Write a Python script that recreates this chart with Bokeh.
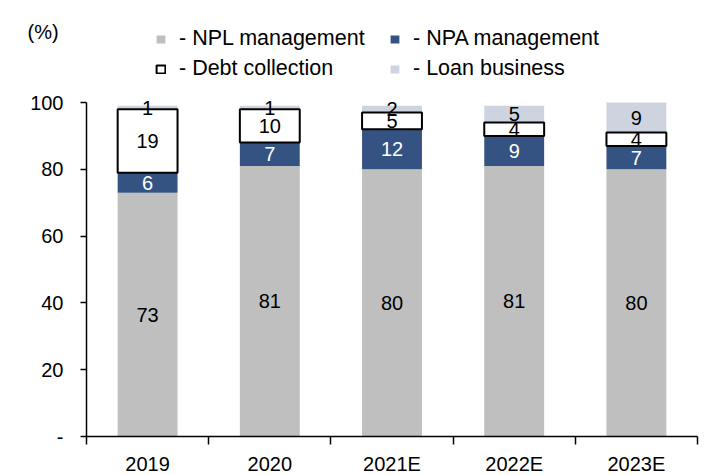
import numpy as np
from bokeh.plotting import figure
from bokeh.models import (ColumnDataSource, Range1d, LinearAxis, FixedTicker,
                          Legend, LegendItem, Label)
from bokeh.core.properties import value
from bokeh.embed import file_html
from bokeh.resources import INLINE

# ---- data ----
years = ["2019", "2020", "2021E", "2022E", "2023E"]
npl = [73, 81, 80, 81, 80]
npa = [6, 7, 12, 9, 7]
debt = [19, 10, 5, 4, 4]
loan = [1, 1, 2, 5, 9]
series_names = ["- NPL management", "- NPA management", "- Debt collection", "- Loan business"]
y_ticks = [0, 20, 40, 60, 80, 100]
y_tick_labels = ["-", "20", "40", "60", "80", "100"]
unit_label = "(%)"

FONT = "Liberation Sans"
W, H = 711, 475
# layout (pixels)
AX_LEFT = 86          # y axis position
PX_PER_CAT = 122.2    # width of one category
AX_BOTTOM = 436       # x axis position
PX_PER_UNIT = 3.34
n = len(years)
x_start = -AX_LEFT / PX_PER_CAT
x_end = x_start + W / PX_PER_CAT
y_start = -(H - AX_BOTTOM) / PX_PER_UNIT
y_end = AX_BOTTOM / PX_PER_UNIT

p = figure(width=W, height=H, output_backend="svg", toolbar_location=None,
           x_range=Range1d(x_start, x_end), y_range=Range1d(y_start, y_end),
           x_axis_type=None, y_axis_type=None,
           min_border_left=0, min_border_right=0, min_border_top=0, min_border_bottom=0)
p.outline_line_color = None
p.background_fill_color = "white"
p.border_fill_color = "white"

x = [i + 0.5 for i in range(n)]
t0 = list(npl)
t1 = [a + b for a, b in zip(t0, npa)]
t2 = [a + b for a, b in zip(t1, debt)]
t3 = [a + b for a, b in zip(t2, loan)]

BW = 0.49
r_npl = p.vbar(x=x, bottom=0, top=t0, width=BW, fill_color="#BFBFBF", line_color=None)
r_npa = p.vbar(x=x, bottom=t0, top=t1, width=BW, fill_color="#345382", line_color=None)
r_loan = p.vbar(x=x, bottom=t2, top=t3, width=BW, fill_color="#CDD3DF", line_color=None)
r_debt = p.vbar(x=x, bottom=t1, top=t2, width=BW, fill_color="white", line_color="black", line_width=2)

# value labels
lx, ly, lt, lc = [], [], [], []
for vals, bots, col in [(npl, [0]*n, "black"), (npa, t0, "white"),
                        (debt, t1, "black"), (loan, t2, "black")]:
    for xi, v, b in zip(x, vals, bots):
        lx.append(xi); ly.append(b + v / 2); lt.append(str(v)); lc.append(col)
src = ColumnDataSource(dict(x=lx, y=ly, text=lt, color=lc))
p.text(x="x", y="y", text="text", text_color="color", source=src,
       text_align="center", text_baseline="middle",
       text_font=value(FONT), text_font_size="20px")

# axes
yaxis = LinearAxis(ticker=FixedTicker(ticks=y_ticks), bounds=(0, 100), fixed_location=0,
                   major_label_overrides={t: l for t, l in zip(y_ticks, y_tick_labels)})
yaxis.axis_line_color = "black"
yaxis.axis_line_width = 1.5
yaxis.major_tick_line_color = "black"
yaxis.major_tick_line_width = 1.5
yaxis.major_tick_out = 6
yaxis.major_tick_in = 0
yaxis.minor_tick_line_color = None
yaxis.major_label_text_font = FONT
yaxis.major_label_text_font_size = "20px"
yaxis.major_label_text_color = "black"
yaxis.major_label_standoff = 17
p.add_layout(yaxis, "left")

xaxis = LinearAxis(ticker=FixedTicker(ticks=x, minor_ticks=list(range(n + 1))),
                   bounds=(0, n), fixed_location=0,
                   major_label_overrides={xi: yr for xi, yr in zip(x, years)})
xaxis.axis_line_color = "black"
xaxis.axis_line_width = 1.5
xaxis.major_tick_line_color = None
xaxis.major_tick_out = 0
xaxis.major_tick_in = 0
xaxis.minor_tick_line_color = "black"
xaxis.minor_tick_line_width = 1.5
xaxis.minor_tick_out = 8
xaxis.minor_tick_in = 0
xaxis.major_label_text_font = FONT
xaxis.major_label_text_font_size = "20px"
xaxis.major_label_text_color = "black"
xaxis.major_label_standoff = 8
p.add_layout(xaxis, "below")

def make_legend(items, loc):
    lg = Legend(items=items, location=loc, orientation="vertical")
    lg.glyph_width = 11
    lg.glyph_height = 10
    lg.label_standoff = 13
    lg.label_text_font = FONT
    lg.label_text_font_size = "21.5px"
    lg.label_text_color = "black"
    lg.spacing = 5
    lg.padding = 0
    lg.margin = 0
    lg.border_line_color = None
    lg.background_fill_alpha = 0
    return lg

FB = H  # frame bottom in canvas pixels
leg1 = make_legend([LegendItem(label=series_names[0], renderers=[r_npl]),
                    LegendItem(label=series_names[2], renderers=[r_debt])], (155, FB - 81))
leg2 = make_legend([LegendItem(label=series_names[1], renderers=[r_npa]),
                    LegendItem(label=series_names[3], renderers=[r_loan])], (389, FB - 81))
p.add_layout(leg1, "center")
p.add_layout(leg2, "center")

p.add_layout(Label(x=27, y=FB - 31, x_units="screen", y_units="screen", text=unit_label,
                   text_font=FONT, text_font_size="20px", text_baseline="middle",
                   text_color="black"))

open("out.html", "w").write(file_html(p, INLINE))
